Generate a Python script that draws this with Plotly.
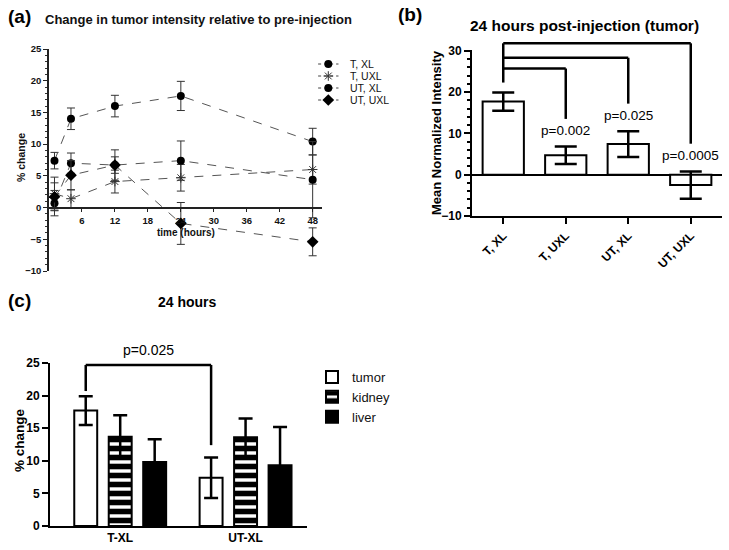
import plotly.graph_objects as go

W, H = 729, 550
FONT = "Liberation Sans, Arial, sans-serif"

# ---------------- Panel (a) data ----------------
times = [1, 4, 12, 24, 48]
t_xl = [7.4, 14.0, 16.0, 17.6, 10.4]
t_xl_err = [1.3, 1.7, 1.7, 2.3, 2.1]
t_uxl = [2.2, 1.4, 4.1, 4.7, 6.0]
t_uxl_err = [2.6, 1.4, 1.8, 2.1, 2.3]
ut_xl = [0.7, 7.0, 6.7, 7.4, 4.4]
ut_xl_err = [2.0, 1.6, 2.4, 3.1, 6.0]
ut_uxl = [1.7, 5.1, 6.7, -2.5, -5.4]
ut_uxl_err = [2.2, 2.3, 1.3, 3.3, 2.2]
series_a_names = ["T, XL", "T, UXL", "UT, XL", "UT, UXL"]
x_ticks_a = [6, 12, 18, 24, 30, 36, 42, 48]
y_ticks_a = [-10, -5, 0, 5, 10, 15, 20, 25]

# ---------------- Panel (b) data ----------------
groups_b = ["T, XL", "T, UXL", "UT, XL", "UT, UXL"]
mean_b = [17.7, 4.7, 7.4, -2.5]
err_b = [2.2, 2.1, 3.1, 3.3]
bracket_start_b = 22.3
bracket_targets_b = [1, 2, 3]
bracket_levels_b = [25.7, 28.3, 31.8]
bracket_ends_b = [13.5, 17.2, 7.5]
p_labels_b = ["p=0.002", "p=0.025", "p=0.0005"]
p_label_y_b = [10.6, 14.3, 4.6]
y_ticks_b = [-10, 0, 10, 20, 30]

# ---------------- Panel (c) data ----------------
groups_c = ["T-XL", "UT-XL"]
tumor_c = [17.7, 7.4]
tumor_c_err = [2.2, 3.1]
kidney_c = [13.7, 13.6]
kidney_c_err = [3.3, 2.9]
liver_c = [9.8, 9.3]
liver_c_err = [3.5, 5.9]
bracket_c = dict(start=20.7, level=24.7, end=12.4, label="p=0.025", label_y=27.0)
y_ticks_c = [0, 5, 10, 15, 20, 25]

# ---------------- layout geometry ----------------
def px_x(p):
    return p / W

def px_y(p):
    return 1 - p / H

xa_dom = [px_x(49), px_x(322)]
ya_dom = [px_y(271), px_y(49)]
ya_range = [-10, 25]
xa_range = [0, 49.7]

# compact legend area for panel (a)
xl_dom = [px_x(312), px_x(420)]
yl_dom = [px_y(106), px_y(58)]

xb_dom = [px_x(472), px_x(722)]
yb_dom = [px_y(216), px_y(49.5)]
yb_range = [-10, 30.3]

xc_dom = [px_x(50), px_x(307)]
yc_dom = [px_y(526), px_y(363)]
yc_range = [0, 25]
xc_range = [-0.56, 1.49]

def yb_paper(v):
    return yb_dom[0] + (v - yb_range[0]) / (yb_range[1] - yb_range[0]) * (yb_dom[1] - yb_dom[0])

def yc_paper(v):
    return yc_dom[0] + (v - yc_range[0]) / (yc_range[1] - yc_range[0]) * (yc_dom[1] - yc_dom[0])

fig = go.Figure()

# ---------------- Panel (a) traces ----------------
line_a = dict(color="#555", width=1, dash="dash")
markers_a = [
    dict(symbol="circle", size=8, color="black"),
    dict(symbol="asterisk-open", size=8, color="#333", line=dict(color="#333", width=1)),
    dict(symbol="circle", size=8, color="black"),
    dict(symbol="diamond", size=9, color="black"),
]
series_a = [(t_xl, t_xl_err), (t_uxl, t_uxl_err), (ut_xl, ut_xl_err), (ut_uxl, ut_uxl_err)]
for name, (vals, errs), mk in zip(series_a_names, series_a, markers_a):
    fig.add_trace(go.Scatter(
        x=times, y=vals, name=name, mode="lines+markers",
        line=line_a, marker=mk,
        error_y=dict(type="data", array=errs, color="#333", thickness=1, width=4),
        xaxis="x", yaxis="y", showlegend=False,
    ))

# compact legend for panel (a): one sample row per series on a hidden helper axis
for i, (name, mk) in enumerate(zip(series_a_names, markers_a)):
    fig.add_trace(go.Scatter(
        x=[0, 1], y=[i, i], mode="lines",
        line=dict(color="#444", width=1, dash="dot"),
        xaxis="x4", yaxis="y4", showlegend=False, hoverinfo="skip",
    ))
    fig.add_trace(go.Scatter(
        x=[0.5], y=[i], mode="markers", marker=mk,
        xaxis="x4", yaxis="y4", showlegend=False, hoverinfo="skip",
    ))

# ---------------- Panel (b) traces ----------------
fig.add_trace(go.Bar(
    x=groups_b, y=mean_b, width=0.66,
    marker=dict(color="white", line=dict(color="black", width=2)),
    error_y=dict(type="data", array=err_b, color="black", thickness=2.5, width=11),
    xaxis="x2", yaxis="y2", showlegend=False,
))

# ---------------- Panel (c) traces ----------------
bw = 0.183
step = 0.275
fig.add_trace(go.Bar(
    x=groups_c, y=tumor_c, name="tumor", width=bw, offset=-step - bw / 2,
    marker=dict(color="white", line=dict(color="black", width=2)),
    error_y=dict(type="data", array=tumor_c_err, color="black", thickness=2.5, width=7),
    xaxis="x3", yaxis="y3",
))
fig.add_trace(go.Bar(
    x=groups_c, y=kidney_c, name="kidney", width=bw, offset=-bw / 2,
    marker=dict(color="white", line=dict(color="black", width=2),
                pattern=dict(shape="-", fgcolor="black", bgcolor="white",
                             size=9, solidity=0.62, fillmode="replace")),
    error_y=dict(type="data", array=kidney_c_err, color="black", thickness=2.5, width=7),
    xaxis="x3", yaxis="y3",
))
fig.add_trace(go.Bar(
    x=groups_c, y=liver_c, name="liver", width=bw, offset=step - bw / 2,
    marker=dict(color="black", line=dict(color="black", width=2)),
    error_y=dict(type="data", array=liver_c_err, color="black", thickness=2.5, width=7),
    xaxis="x3", yaxis="y3",
))

# ---------------- shapes (significance brackets) ----------------
shapes = []
line_b = dict(color="black", width=2.5)
shapes.append(dict(type="line", xref="x2", yref="paper", x0=0, x1=0,
                   y0=yb_paper(bracket_start_b), y1=yb_paper(max(bracket_levels_b)), line=line_b))
for t, lev, end in zip(bracket_targets_b, bracket_levels_b, bracket_ends_b):
    shapes.append(dict(type="line", xref="x2", yref="paper", x0=0, x1=t,
                       y0=yb_paper(lev), y1=yb_paper(lev), line=line_b))
    shapes.append(dict(type="line", xref="x2", yref="paper", x0=t, x1=t,
                       y0=yb_paper(lev), y1=yb_paper(end), line=line_b))

xc0 = 0 - step
xc1 = 1 - step
line_c = dict(color="black", width=2.5)
shapes.append(dict(type="line", xref="x3", yref="y3", x0=xc0, x1=xc0,
                   y0=bracket_c["start"], y1=bracket_c["level"], line=line_c))
shapes.append(dict(type="line", xref="x3", yref="y3", x0=xc0, x1=xc1,
                   y0=bracket_c["level"], y1=bracket_c["level"], line=line_c))
shapes.append(dict(type="line", xref="x3", yref="y3", x0=xc1, x1=xc1,
                   y0=bracket_c["level"], y1=bracket_c["end"], line=line_c))

# ---------------- annotations ----------------
ann = []
def txt(text, x, y, size, bold=True, xanchor="center", angle=0, xref="paper", yref="paper", color="black"):
    ann.append(dict(text=text, x=x, y=y, xref=xref, yref=yref, showarrow=False,
                    xanchor=xanchor, yanchor="middle", textangle=angle,
                    font=dict(family=FONT, size=size, color=color,
                              weight="bold" if bold else "normal")))

txt("(a)", px_x(6), px_y(17), 19, xanchor="left")
txt("Change in tumor intensity relative to pre-injection", px_x(43), px_y(19), 13, xanchor="left", color="#111")
txt("% change", px_x(21), px_y(158), 10.5, angle=-90, color="#111")
txt("time (hours)", px_x(186), px_y(233), 10, color="#111")
for i, name in enumerate(series_a_names):
    txt(name, 1.45, i, 10.5, bold=False, xanchor="left", xref="x4", yref="y4", color="#111")

txt("(b)", px_x(396), px_y(15), 19, xanchor="left")
txt("24 hours post-injection (tumor)", px_x(584), px_y(26), 15.5)
txt("Mean Normalized Intensity", px_x(436), px_y(133), 13, angle=-90)
for t, lab, ly in zip(bracket_targets_b, p_labels_b, p_label_y_b):
    txt(lab, t, yb_paper(ly), 13.5, bold=False, xref="x2", yref="paper")

txt("(c)", px_x(6), px_y(300), 19, xanchor="left")
txt("24 hours", px_x(187), px_y(302), 14)
txt("% change", px_x(19), px_y(440), 13.5, angle=-90)
txt(bracket_c["label"], (xc0 + xc1) / 2, yc_paper(bracket_c["label_y"]), 14, bold=False,
    xref="x3", yref="paper")

# ---------------- axes ----------------
xa_pos = ya_dom[0] + (0 - ya_range[0]) / (ya_range[1] - ya_range[0]) * (ya_dom[1] - ya_dom[0])
tick_a = dict(family=FONT, size=9.5, color="#111", weight="bold")
tick_bc = dict(family=FONT, size=12, color="black", weight="bold")
hidden = dict(visible=False, showgrid=False, zeroline=False, fixedrange=True)

fig.update_layout(
    width=W, height=H,
    margin=dict(l=0, r=0, t=0, b=0, autoexpand=False),
    paper_bgcolor="white", plot_bgcolor="rgba(0,0,0,0)",
    barmode="overlay",
    font=dict(family=FONT, color="black"),
    shapes=shapes, annotations=ann,
    showlegend=True,
    xaxis=dict(domain=xa_dom, range=xa_range, anchor="free", position=xa_pos,
               tickvals=x_ticks_a, ticks="outside", ticklen=4, tickwidth=1.2, tickcolor="#222",
               showline=True, linecolor="#222", linewidth=1.5, showgrid=False, zeroline=False,
               tickfont=tick_a, automargin=False),
    yaxis=dict(domain=ya_dom, range=ya_range, anchor="x", tickvals=y_ticks_a,
               ticks="outside", ticklen=4, tickwidth=1.2, tickcolor="#222",
               minor=dict(dtick=1, ticks="outside", ticklen=2, tickcolor="#333", tickwidth=1),
               showline=True, linecolor="#222", linewidth=1.5, showgrid=False, zeroline=False,
               tickfont=tick_a, automargin=False),
    xaxis4=dict(hidden, domain=xl_dom, range=[-0.3, 5.0], anchor="y4"),
    yaxis4=dict(hidden, domain=yl_dom, range=[3.5, -0.5], anchor="x4"),
    xaxis2=dict(domain=xb_dom, range=[-0.5, 3.5], anchor="y2", type="category",
                ticks="outside", ticklen=6, tickwidth=2, tickcolor="black",
                showline=True, linecolor="black", linewidth=2, showgrid=False,
                tickangle=-45, tickfont=tick_bc, automargin=False),
    yaxis2=dict(domain=yb_dom, range=yb_range, anchor="x2", tickvals=y_ticks_b,
                ticks="outside", ticklen=6, tickwidth=2, tickcolor="black",
                minor=dict(dtick=2, ticks="outside", ticklen=3, tickcolor="black", tickwidth=1.5),
                showline=True, linecolor="black", linewidth=2, showgrid=False,
                zeroline=True, zerolinecolor="black", zerolinewidth=2,
                tickfont=tick_bc, automargin=False),
    xaxis3=dict(domain=xc_dom, range=xc_range, anchor="y3", type="category",
                ticks="", showline=True, linecolor="black", linewidth=2, showgrid=False,
                tickfont=dict(family=FONT, size=12, color="black", weight="bold"),
                automargin=False),
    yaxis3=dict(domain=yc_dom, range=yc_range, anchor="x3", tickvals=y_ticks_c,
                ticks="outside", ticklen=6, tickwidth=2, tickcolor="black",
                showline=True, linecolor="black", linewidth=2, showgrid=False, zeroline=False,
                tickfont=tick_bc, automargin=False),
    legend=dict(x=px_x(312), y=px_y(362), xanchor="left", yanchor="top",
                font=dict(family=FONT, size=13, color="#111"), bgcolor="rgba(0,0,0,0)",
                tracegroupgap=0),
)

fig.write_html("out.html", config={"displayModeBar": False},
               post_script="document.body.style.margin='0';")
